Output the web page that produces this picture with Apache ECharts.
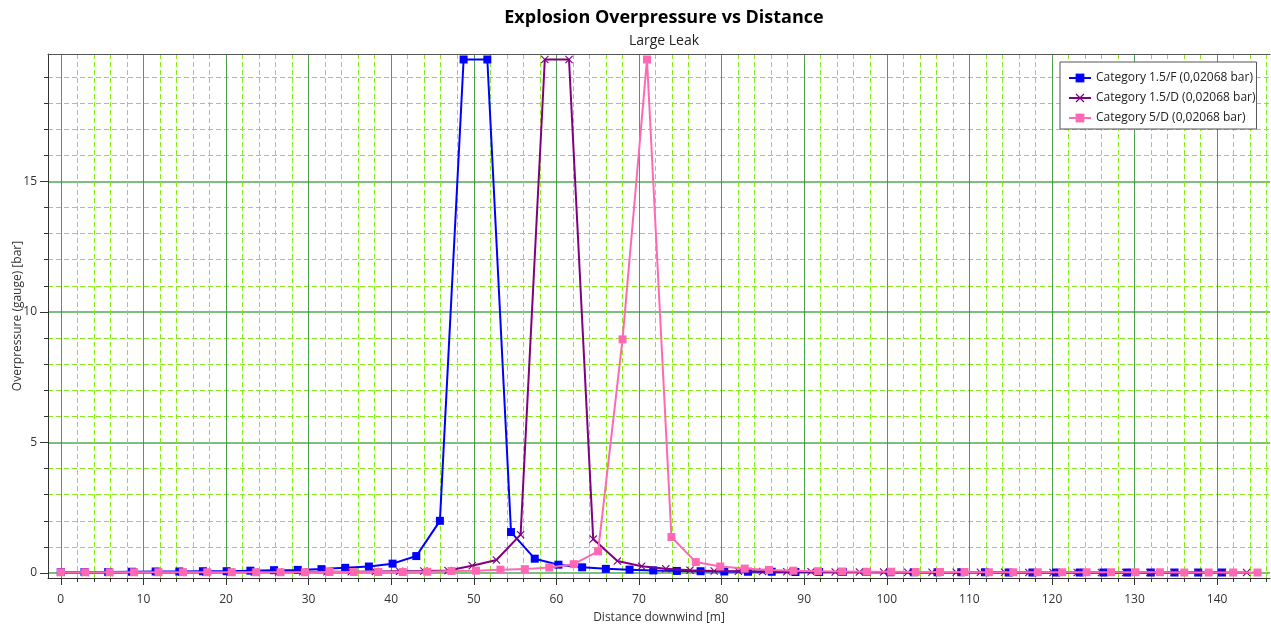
<!DOCTYPE html>
<html>
<head>
<meta charset="utf-8">
<script src="https://cdn.jsdelivr.net/npm/echarts@6/dist/echarts.min.js"></script>
<style>html,body{margin:0;padding:0;background:#fff}#c{width:1271px;height:628px}</style>
</head>
<body>
<div id="c"></div>
<script>
// ---- data ----
const seriesNames = ['Category 1.5/F (0,02068 bar)', 'Category 1.5/D (0,02068 bar)', 'Category 5/D (0,02068 bar)'];

const xBlue = [0, 2.87, 5.74, 8.61, 11.48, 14.35, 17.21, 20.08, 22.95, 25.82, 28.69, 31.56, 34.43, 37.30, 40.17, 43.04, 45.90, 48.77, 51.64, 54.51, 57.38, 60.25, 63.12, 65.99, 68.86, 71.73, 74.59, 77.46, 80.33, 83.20, 86.07, 88.94, 91.81, 94.68, 97.55, 100.42, 103.28, 106.15, 109.02, 111.89, 114.76, 117.63, 120.50, 123.37, 126.24, 129.11, 131.97, 134.84, 137.71, 140.58];
const yBlue = [0.04, 0.04, 0.04, 0.05, 0.06, 0.06, 0.07, 0.07, 0.09, 0.11, 0.12, 0.15, 0.20, 0.25, 0.36, 0.65, 2.0, 19.67, 19.67, 1.57, 0.55, 0.32, 0.22, 0.16, 0.13, 0.10, 0.08, 0.07, 0.06, 0.05, 0.05, 0.04, 0.04, 0.04, 0.04, 0.03, 0.03, 0.03, 0.03, 0.03, 0.02, 0.02, 0.02, 0.02, 0.02, 0.02, 0.02, 0.02, 0.02, 0.02];

const xPurple = [0, 2.93, 5.86, 8.79, 11.72, 14.65, 17.58, 20.51, 23.44, 26.37, 29.30, 32.23, 35.16, 38.09, 41.02, 43.95, 46.88, 49.81, 52.74, 55.67, 58.60, 61.53, 64.46, 67.39, 70.32, 73.25, 76.18, 79.11, 82.04, 84.97, 87.90, 90.83, 93.76, 96.69, 99.62, 102.55, 105.48, 108.41, 111.34, 114.27, 117.20, 120.13, 123.06, 125.99, 128.92, 131.85, 134.78, 137.71, 140.64, 143.57];
const yPurple = [0.02, 0.02, 0.02, 0.03, 0.03, 0.03, 0.03, 0.04, 0.04, 0.04, 0.05, 0.05, 0.05, 0.06, 0.07, 0.08, 0.10, 0.28, 0.50, 1.47, 19.67, 19.67, 1.30, 0.46, 0.26, 0.16, 0.11, 0.08, 0.07, 0.06, 0.05, 0.05, 0.04, 0.04, 0.04, 0.03, 0.03, 0.03, 0.03, 0.03, 0.02, 0.02, 0.02, 0.02, 0.02, 0.02, 0.02, 0.02, 0.02, 0.02];

const xPink = [0, 2.96, 5.91, 8.87, 11.83, 14.79, 17.74, 20.70, 23.66, 26.61, 29.57, 32.53, 35.48, 38.44, 41.40, 44.36, 47.31, 50.27, 53.23, 56.18, 59.14, 62.10, 65.05, 68.01, 70.97, 73.93, 76.88, 79.84, 82.80, 85.75, 88.71, 91.67, 94.62, 97.58, 100.54, 103.50, 106.45, 109.41, 112.37, 115.32, 118.28, 121.24, 124.19, 127.15, 130.11, 133.07, 136.02, 138.98, 141.94, 144.89];
const yPink = [0.03, 0.03, 0.03, 0.03, 0.03, 0.03, 0.03, 0.03, 0.03, 0.03, 0.03, 0.04, 0.04, 0.04, 0.04, 0.05, 0.08, 0.09, 0.13, 0.15, 0.21, 0.34, 0.83, 8.95, 19.67, 1.38, 0.42, 0.25, 0.17, 0.12, 0.09, 0.07, 0.06, 0.05, 0.05, 0.04, 0.04, 0.04, 0.03, 0.03, 0.03, 0.03, 0.03, 0.03, 0.03, 0.03, 0.02, 0.02, 0.02, 0.02];

const xMajorTicks = [0, 10, 20, 30, 40, 50, 60, 70, 80, 90, 100, 110, 120, 130, 140];
const xMinorTicks = [2, 4, 6, 8, 12, 14, 16, 18, 22, 24, 26, 28, 32, 34, 36, 38, 42, 44, 46, 48, 52, 54, 56, 58, 62, 64, 66, 68, 72, 74, 76, 78, 82, 84, 86, 88, 92, 94, 96, 98, 102, 104, 106, 108, 112, 114, 116, 118, 122, 124, 126, 128, 132, 134, 136, 138, 142, 144, 146];
const yMajorTicks = [0, 5, 10, 15];
const yMinorTicks = [1, 2, 3, 4, 6, 7, 8, 9, 11, 12, 13, 14, 16, 17, 18, 19];

// ---- chart ----
const X_MIN = -1.55, X_MAX = 146.4, Y_MIN = -0.19, Y_MAX = 19.88;
const FONT = '"Open Sans", "Noto Sans", sans-serif';
const crossPath = 'path://M0,1L1,0L5,4L9,0L10,1L6,5L10,9L9,10L5,6L1,10L0,9L4,5Z';

function zip(xs, ys) { return xs.map((x, i) => [x, ys[i]]); }

const chart = echarts.init(document.getElementById('c'), null, { renderer: 'canvas' });

const minorX = {
  type: 'value', min: X_MIN, max: X_MAX, position: 'bottom',
  axisLine: { show: true, onZero: false, lineStyle: { color: '#333', width: 1 } },
  axisTick: { show: true, customValues: xMinorTicks, length: 4, lineStyle: { color: '#333' } },
  axisLabel: { show: false },
  splitLine: { show: true, lineStyle: { color: '#86ea1c', type: [5, 3], width: 1 } }
};
const majorX = {
  type: 'value', min: X_MIN, max: X_MAX, position: 'bottom',
  name: 'Distance downwind [m]', nameLocation: 'middle', nameGap: 34, nameMoveOverlap: false,
  nameTextStyle: { color: '#333', fontSize: 12, fontFamily: FONT },
  axisLine: { show: false, onZero: false },
  axisTick: { show: true, customValues: xMajorTicks, length: 7, lineStyle: { color: '#333' } },
  axisLabel: { show: true, customValues: xMajorTicks, margin: 16, color: '#333', fontSize: 12, fontFamily: FONT },
  splitLine: { show: true, lineStyle: { color: '#2f8f2f', width: 1, opacity: 0.85 } }
};
const topX = {
  type: 'value', min: X_MIN, max: X_MAX, position: 'top',
  axisLine: { show: true, onZero: false, lineStyle: { color: '#555', width: 1 } },
  axisTick: { show: false }, axisLabel: { show: false }, splitLine: { show: false }
};
const minorY = {
  type: 'value', min: Y_MIN, max: Y_MAX, position: 'left',
  axisLine: { show: true, onZero: false, lineStyle: { color: '#333', width: 1 } },
  axisTick: { show: true, customValues: yMinorTicks, length: 4, lineStyle: { color: '#333' } },
  axisLabel: { show: false },
  splitLine: { show: true, lineStyle: { color: '#86ea1c', type: [5, 3], width: 1 } }
};
const majorY = {
  type: 'value', min: Y_MIN, max: Y_MAX, position: 'left',
  name: 'Overpressure (gauge) [bar]', nameLocation: 'middle', nameGap: 24, nameRotate: 90, nameMoveOverlap: false,
  nameTextStyle: { color: '#333', fontSize: 12, fontFamily: FONT },
  axisLine: { show: false, onZero: false },
  axisTick: { show: true, customValues: yMajorTicks, length: 8, lineStyle: { color: '#333' } },
  axisLabel: { show: true, customValues: yMajorTicks, margin: 11, color: '#333', fontSize: 12, fontFamily: FONT },
  splitLine: { show: true, lineStyle: { color: '#5fae5f', width: 2, opacity: 0.8 } }
};

function lineSeries(name, xs, ys, color, symbol, z) {
  return {
    name: name, type: 'line', xAxisIndex: 0, yAxisIndex: 0,
    data: zip(xs, ys), color: color,
    symbol: symbol, symbolSize: 8, showAllSymbol: true,
    lineStyle: { color: color, width: 2 },
    itemStyle: { color: color },
    z: z, animation: false
  };
}

chart.setOption({
  backgroundColor: '#fff',
  animation: false,
  title: {
    text: 'Explosion Overpressure vs Distance',
    subtext: 'Large Leak',
    left: 659, top: 4, textAlign: 'center', itemGap: 7,
    textStyle: { fontSize: 18, fontWeight: 'bold', color: '#000', fontFamily: FONT },
    subtextStyle: { fontSize: 14, color: '#222', fontFamily: FONT }
  },
  grid: { left: 48, right: 1, top: 54, bottom: 50, containLabel: false, outerBoundsMode: 'none' },
  xAxis: [minorX, majorX, topX],
  yAxis: [minorY, majorY],
  legend: {
    orient: 'vertical', left: 1060, top: 62,
    padding: [10, 1, 5, 8], itemGap: 8, itemWidth: 22, itemHeight: 11,
    backgroundColor: '#fff', borderColor: '#555', borderWidth: 1,
    textStyle: { fontSize: 12, color: '#222', fontFamily: FONT },
    data: seriesNames
  },
  series: [
    lineSeries(seriesNames[0], xBlue, yBlue, '#0000ff', 'rect', 3),
    lineSeries(seriesNames[1], xPurple, yPurple, '#800080', crossPath, 4),
    lineSeries(seriesNames[2], xPink, yPink, '#ff69b4', 'rect', 5)
  ]
});
</script>
</body>
</html>
